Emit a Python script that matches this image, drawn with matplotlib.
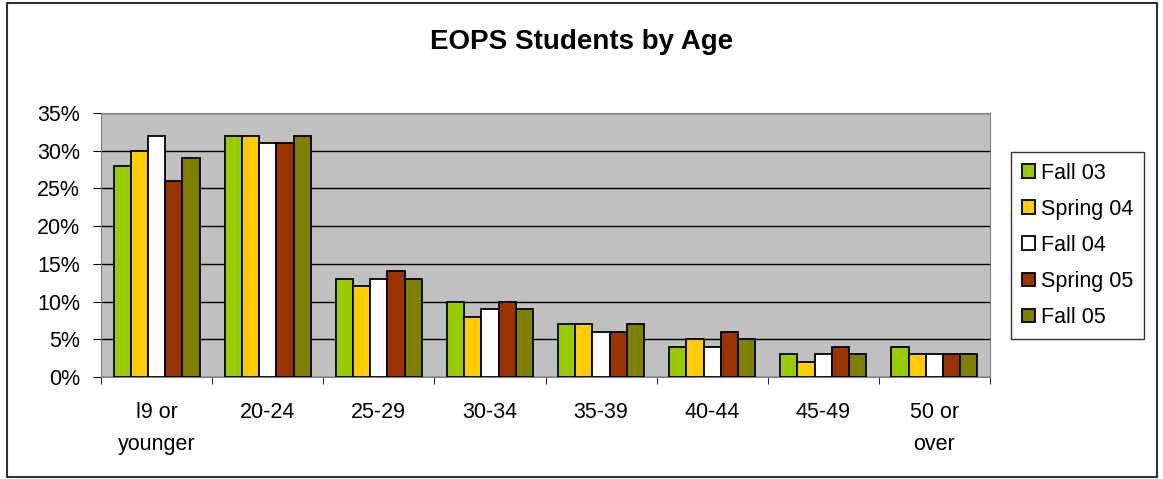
import matplotlib.pyplot as plt
import numpy as np
from matplotlib.patches import Rectangle

plt.rcParams['font.family'] = ['Liberation Sans', 'DejaVu Sans']

ages = ["l9 or\nyounger", "20-24", "25-29", "30-34", "35-39", "40-44", "45-49", "50 or\nover"]
terms = ["Fall 03", "Spring 04", "Fall 04", "Spring 05", "Fall 05"]
fall03 = [28, 32, 13, 10, 7, 4, 3, 4]
spring04 = [30, 32, 12, 8, 7, 5, 2, 3]
fall04 = [32, 31, 13, 9, 6, 4, 3, 3]
spring05 = [26, 31, 14, 10, 6, 6, 4, 3]
fall05 = [29, 32, 13, 9, 7, 5, 3, 3]
colors = ["#99CC00", "#FFCC00", "#FFFFFF", "#993300", "#808000"]

fig = plt.figure(figsize=(11.63, 4.79), dpi=100)
ax = fig.add_axes([101/1163, 1 - 377/479, (990-101)/1163, (377-113)/479])

# outer frame of the chart
fig.patches.append(Rectangle((7/1163, 2/479), 1150/1163, 474/479, transform=fig.transFigure,
                             fill=False, edgecolor='#333333', linewidth=1.5))

x = np.arange(len(ages))
w = 0.155
series = [fall03, spring04, fall04, spring05, fall05]
for i, (vals, c, t) in enumerate(zip(series, colors, terms)):
    ax.bar(x + (i - 2) * w, vals, w, color=c, edgecolor='black', linewidth=1.3, label=t, zorder=3)

ax.set_facecolor('#C0C0C0')
ax.set_xlim(-0.5, len(ages) - 0.5)
ax.set_ylim(0, 35)
ax.set_yticks(range(0, 36, 5))
ax.set_yticklabels([f"{v}%" for v in range(0, 36, 5)])
ax.yaxis.grid(True, color='black', linewidth=1, zorder=0)
ax.set_axisbelow(True)

ax.set_xticks(x)
ax.set_xticklabels(ages, linespacing=1.7)
ax.set_xticks(np.arange(-0.5, len(ages)), minor=True)
ax.tick_params(axis='x', which='major', length=0, pad=18, labelsize=15.5)
ax.tick_params(axis='x', which='minor', length=5, direction='out')
ax.tick_params(axis='y', length=6, direction='out', labelsize=15.5, pad=9)

for s in ax.spines.values():
    s.set_color('#808080')

fig.text(0.5, 1 - 42/479, "EOPS Students by Age", ha='center', va='center',
         fontsize=20, fontweight='bold')

leg = fig.legend(loc='upper left', bbox_to_anchor=(1011/1163, 1 - 152/479), fontsize=15.5,
                 frameon=True, fancybox=False, edgecolor='black', handlelength=0.6,
                 handleheight=0.6, handletextpad=0.3, labelspacing=0.7, borderpad=0.5,
                 borderaxespad=0)
leg.get_frame().set_linewidth(1)

fig.savefig("out.png", dpi=100)
